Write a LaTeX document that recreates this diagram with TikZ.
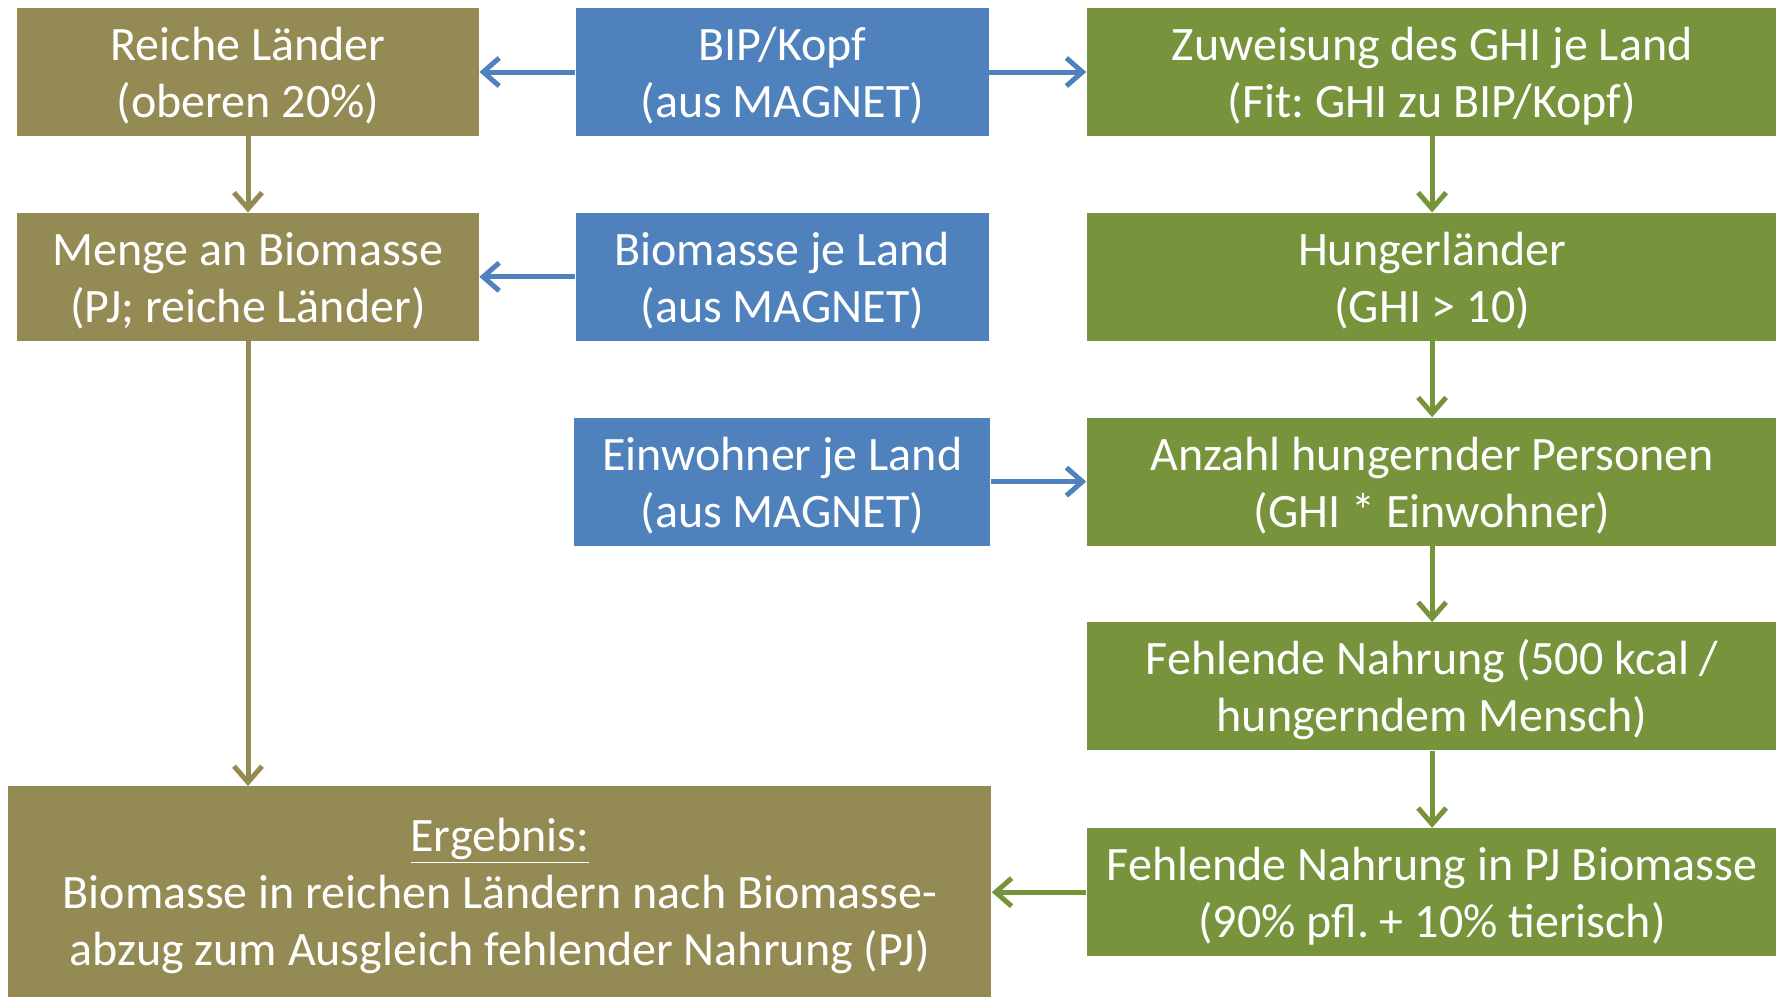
\documentclass[tikz,border=0pt]{standalone}
\usepackage{fontspec}
\setmainfont{Carlito}
\usetikzlibrary{positioning,arrows.meta}

\definecolor{olivebrown}{RGB}{148,138,84}
\definecolor{officeblue}{RGB}{79,129,189}
\definecolor{leafgreen}{RGB}{119,147,60}

% extra room above the first line, so the text sits a bit lower in the box
\newcommand{\topgap}{\rule{0pt}{20.5pt}}
\frenchspacing

\begin{document}
\begin{tikzpicture}[node distance=38pt and 48pt, align=center, font=\fontsize{24}{28.5}\selectfont]
  \tikzstyle{block} = [rectangle, text=white, inner sep=0pt, minimum height=64pt]
  \tikzstyle{richbox} = [block, fill=olivebrown, minimum width=231pt]
  \tikzstyle{sourcebox} = [block, fill=officeblue, minimum width=206.5pt]
  \tikzstyle{hungerbox} = [block, fill=leafgreen, minimum width=345.5pt]
  \tikzstyle{arrow} = [-{Straight Barb[length=8pt,width=14pt]}, line width=2.5pt]

  \useasboundingbox (0,0) rectangle (888pt,-498.5pt);

  \node[richbox] (reiche) at (124pt,-36pt) {\topgap Reiche Länder\\(oberen 20\%)};
  \node[sourcebox, right=48pt of reiche] (bip) {\topgap BIP/Kopf\\(aus MAGNET)};
  \node[hungerbox, right=48.5pt of bip] (zuweisung) {\topgap Zuweisung des GHI je Land\\(Fit: GHI zu BIP/Kopf)};

  \node[richbox, below=of reiche] (menge) {\topgap Menge an Biomasse\\(PJ; reiche Länder)};
  \node[sourcebox, below=of bip] (biomasse) {\topgap Biomasse je Land\\(aus MAGNET)};
  \node[hungerbox, below=of zuweisung] (hunger) {\topgap Hungerländer\\(GHI > 10)};

  \node[sourcebox, minimum width=208pt, below=of biomasse] (einwohner) {\topgap Einwohner je Land\\(aus MAGNET)};
  \node[hungerbox, below=of hunger] (anzahl) {\topgap Anzahl hungernder Personen\\(GHI * Einwohner)};
  \node[hungerbox, below=of anzahl] (fehlend) {\topgap Fehlende Nahrung (500 kcal /\\hungerndem Mensch)};
  \node[hungerbox, below=38.5pt of fehlend] (fehlendpj) {\topgap Fehlende Nahrung in PJ Biomasse\\(90\% pfl. + 10\% tierisch)};

  \node[block, fill=olivebrown, anchor=north west, minimum width=491.5pt, minimum height=105.5pt]
    (ergebnis) at (4pt,-393pt) {\topgap\underline{Ergebnis:}\\Biomasse in reichen Ländern nach Biomasse-\\abzug zum Ausgleich fehlender Nahrung (PJ)};

  % Daten aus MAGNET
  \draw[arrow, officeblue] (bip) -- (reiche);
  \draw[arrow, officeblue] (bip) -- (zuweisung);
  \draw[arrow, officeblue] (biomasse) -- (menge);
  \draw[arrow, officeblue] (einwohner) -- (anzahl);

  % reiche Laender
  \draw[arrow, olivebrown] (reiche) -- (menge);
  \draw[arrow, olivebrown] (menge) -- (menge |- ergebnis.north);

  % Hungerlaender
  \draw[arrow, leafgreen] (zuweisung) -- (hunger);
  \draw[arrow, leafgreen] (hunger) -- (anzahl);
  \draw[arrow, leafgreen] (anzahl) -- (fehlend);
  \draw[arrow, leafgreen] (fehlend) -- (fehlendpj);
  \draw[arrow, leafgreen] (fehlendpj) -- (fehlendpj -| ergebnis.east);
\end{tikzpicture}
\end{document}
